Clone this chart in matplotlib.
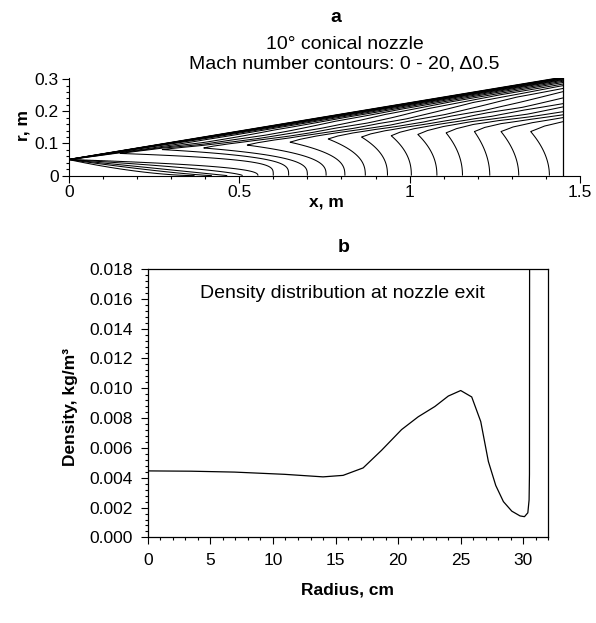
import numpy as np
import matplotlib
matplotlib.use("Agg")
import matplotlib.pyplot as plt
from matplotlib.ticker import MultipleLocator, FormatStrFormatter, FuncFormatter

plt.rcParams["font.family"] = ["Liberation Sans", "DejaVu Sans"]

# nozzle geometry
throat_r = 0.05
half_angle = 10.0
exit_x = 1.45

# Mach levels of the core contours: where each meets the axis, where its "nose" sits,
# and how sharply it bends
core_mach = [1.6, 2.0, 2.5, 3.0, 3.5, 4.0, 4.5, 5.0, 5.5, 6.0, 6.5, 7.0, 7.5, 8.0,
             8.5, 9.0, 9.5, 10.0, 10.5, 11.0]
axis_x = [0.0, 0.37, 0.42, 0.465, 0.51, 0.555, 0.60, 0.645, 0.70, 0.755, 0.81, 0.87,
          0.935, 1.005, 1.08, 1.155, 1.235, 1.32, 1.41, 1.50]
nose_x = [0.0, 0.0, 0.0, 0.0, 0.0, 0.0, 0.15, 0.274, 0.395, 0.523, 0.649, 0.761,
          0.859, 0.946, 1.024, 1.107, 1.19, 1.268, 1.355, 1.45]
nose_r = [0.05, 0.05, 0.05, 0.05, 0.05, 0.05, 0.069, 0.081, 0.086, 0.095, 0.104, 0.114,
          0.12, 0.124, 0.128, 0.133, 0.137, 0.137, 0.137, 0.14]
bend = [0.6, 0.6, 0.8, 1.0, 1.5, 2.5, 4.0, 3.6, 3.2, 2.9, 2.7, 2.5, 2.4, 2.3,
        2.2, 2.1, 2.0, 2.0, 2.0, 2.0]

# fraction of ridge Mach vs. fractional distance from the wall (upper arms / wall layer)
wall_eta = [0.0, 0.01, 0.03, 0.06, 0.10, 0.16, 0.26, 0.38, 0.49, 0.55, 0.64, 0.70,
            0.75, 0.82, 0.90, 1.0]
wall_frac = [0.0, 0.14, 0.27, 0.38, 0.46, 0.55, 0.633, 0.679, 0.724, 0.77, 0.814,
             0.86, 0.905, 0.95, 0.98, 1.0]

# panel b: density at nozzle exit
radius_cm = [0.0, 3.47, 6.93, 10.93, 14.0, 15.6, 17.2, 18.67, 20.27, 21.6, 22.93, 24.0,
             24.99, 25.87, 26.59, 27.2, 27.79, 28.4, 29.07, 29.73, 30.08, 30.35, 30.45,
             30.48, 30.5]
density = [0.00446, 0.00444, 0.00438, 0.00423, 0.00406, 0.00416, 0.00466, 0.00584,
           0.00723, 0.00809, 0.00878, 0.00948, 0.00985, 0.00942, 0.00777, 0.00509,
           0.00348, 0.0024, 0.00176, 0.00144, 0.00139, 0.00165, 0.00251, 0.00423, 0.03]


def mach_field():
    tan_a = np.tan(np.radians(half_angle))
    xg = np.linspace(0, exit_x, 800)
    rg = np.linspace(0, 0.31, 900)
    r_wall = throat_r + xg * tan_a

    lf = np.linspace(core_mach[0], core_mach[-1], 3000)
    xa = np.interp(lf, core_mach, axis_x)
    xn = np.interp(lf, core_mach, nose_x)
    rn = np.interp(lf, core_mach, nose_r)
    qq = np.interp(lf, core_mach, bend)

    core = np.full((len(rg), len(xg)), core_mach[-1])
    for i, r in enumerate(rg):
        ok = rn >= r
        if not ok.any():
            continue
        t = r / rn[ok]
        xc = xa[ok] - (xa[ok] - xn[ok]) * t ** qq[ok]
        xc = np.maximum.accumulate(xc)
        core[i] = np.interp(xg, xc, lf[ok])

    ridge_x, ridge_r, ridge_m = nose_x[5:], nose_r[5:], core_mach[5:]
    rr = np.interp(xg, ridge_x, ridge_r)
    mr = np.interp(xg, ridge_x, ridge_m)
    R = np.repeat(rg[:, None], len(xg), axis=1)
    gap = np.maximum(r_wall - rr, 1e-6)
    eta = (r_wall[None, :] - R) / gap[None, :]
    layer = mr[None, :] * np.interp(eta, wall_eta, wall_frac)
    mach = np.where(R <= rr[None, :], core, layer)
    return xg, rg, r_wall, mach


fig = plt.figure(figsize=(5.96, 6.23), dpi=100)

# ---- panel a
ax1 = fig.add_axes([0.1153, 0.7181, 0.858, 0.1575])
xg, rg, r_wall, mach = mach_field()
ax1.contour(xg, rg, mach, levels=np.arange(0.5, 20.01, 0.5), colors="black",
            linewidths=0.75)
ax1.plot(xg, r_wall, color="black", lw=1.0)
ax1.plot([exit_x, exit_x], [0, r_wall[-1]], color="black", lw=0.9)
ax1.set_xlim(0, 1.5)
ax1.set_ylim(0, 0.305)
ax1.spines["top"].set_visible(False)
ax1.spines["right"].set_visible(False)
ax1.xaxis.set_major_locator(MultipleLocator(0.5))
ax1.xaxis.set_minor_locator(MultipleLocator(0.1))
ax1.yaxis.set_major_locator(MultipleLocator(0.1))
ax1.yaxis.set_minor_locator(MultipleLocator(0.02))
ax1.xaxis.set_major_formatter(FuncFormatter(lambda v, p: "%g" % round(v, 3)))
ax1.yaxis.set_major_formatter(FuncFormatter(lambda v, p: "%g" % round(v, 3)))
ax1.tick_params(which="both", direction="out", width=0.8, labelsize=12.5, pad=2)
ax1.tick_params(which="major", length=5)
ax1.tick_params(which="minor", length=2.5)

fig.text(0.5636, 0.9724, "a", ha="center", va="center", fontsize=14, fontweight="bold")
fig.text(0.578, 0.9278, "10° conical nozzle", ha="center", va="center", fontsize=14)
fig.text(0.578, 0.897, "Mach number contours: 0 - 20, \u03940.5", ha="center",
         va="center", fontsize=14)
fig.text(0.547, 0.675, "x, m", ha="center", va="center", fontsize=12.5,
         fontweight="bold")
fig.text(0.0384, 0.798, "r, m", ha="center", va="center", fontsize=12.5,
         fontweight="bold", rotation=90)

# ---- panel b
ax2 = fig.add_axes([0.2478, 0.1374, 0.6725, 0.4308])
ax2.plot(radius_cm, density, color="black", lw=0.9)
ax2.set_xlim(0, 32)
ax2.set_ylim(0, 0.018)
ax2.xaxis.set_major_locator(MultipleLocator(5))
ax2.xaxis.set_minor_locator(MultipleLocator(1))
ax2.yaxis.set_major_locator(MultipleLocator(0.002))
ax2.yaxis.set_minor_locator(MultipleLocator(0.0004))
ax2.yaxis.set_major_formatter(FormatStrFormatter("%.3f"))
ax2.tick_params(which="both", direction="out", width=0.8, labelsize=12.5, pad=6)
ax2.tick_params(which="major", length=5)
ax2.tick_params(which="minor", length=2.5)
for s in ax2.spines.values():
    s.set_linewidth(0.9)
ax2.text(0.486, 0.907, "Density distribution at nozzle exit", transform=ax2.transAxes,
         ha="center", va="center", fontsize=14)

fig.text(0.5763, 0.602, "b", ha="center", va="center", fontsize=14, fontweight="bold")
fig.text(0.5828, 0.0535, "Radius, cm", ha="center", va="center", fontsize=12.5,
         fontweight="bold")
fig.text(0.1185, 0.3475, "Density, kg/m\u00b3", ha="center", va="center",
         fontsize=12.5, fontweight="bold", rotation=90)

fig.savefig("out.png", dpi=100)
